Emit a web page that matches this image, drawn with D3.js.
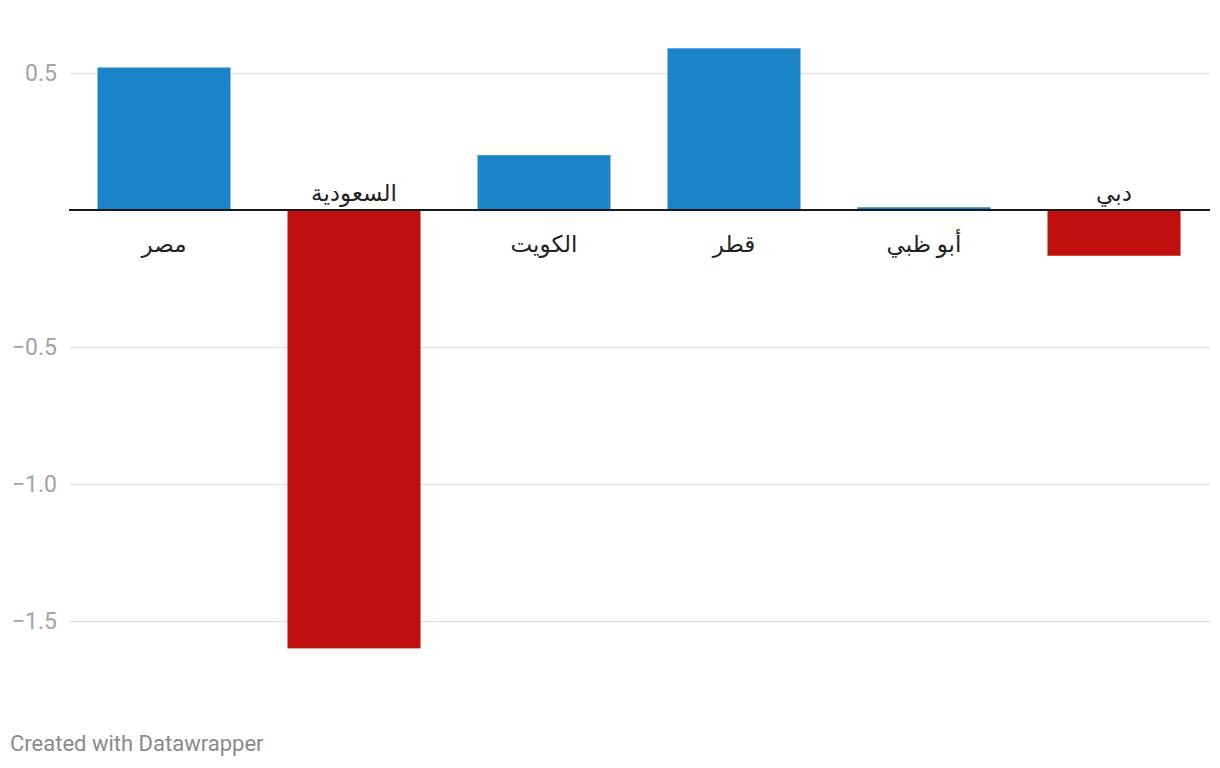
<!DOCTYPE html>
<html><head><meta charset="utf-8">
<script src="https://cdn.jsdelivr.net/npm/d3@7"></script>
<style>
body{margin:0;background:#fff;}
svg text{font-family:Roboto,"Noto Sans","DejaVu Sans",sans-serif;}
</style></head>
<body>
<svg id="c" width="1220" height="768"></svg>
<script>
const categories = ["مصر","السعودية","الكويت","قطر","أبو ظبي","دبي"];
const values = [0.52, -1.6, 0.2, 0.59, 0.01, -0.167];
const tickValues = [0.5, 0, -0.5, -1.0, -1.5];
const tickLabels = ["0.5", "", "−0.5", "−1.0", "−1.5"];

const svg = d3.select("#c");
const x = d3.scaleBand().domain(categories).range([69, 1209]).paddingInner(0.3).paddingOuter(0.15);
const y = d3.scaleLinear().domain([-1.5, 0.5]).range([621, 73]);

// gridlines
svg.append("g").selectAll("line").data(tickValues.filter(d=>d!==0)).join("line")
  .attr("x1", 70).attr("x2", 1210)
  .attr("y1", d=>Math.round(y(d))+0.5).attr("y2", d=>Math.round(y(d))+0.5)
  .attr("stroke", "#e3e3e3").attr("stroke-width", 1.5);

// tick labels
svg.append("g").selectAll("text").data(tickValues).join("text")
  .attr("x", 57).attr("y", d=>y(d)).attr("dy", "0.35em")
  .attr("text-anchor", "end").attr("font-size", 23).attr("fill", "#a3a3a3")
  .text((d,i)=>tickLabels[i]);

// bars
svg.append("g").selectAll("rect").data(values).join("rect")
  .attr("x", (d,i)=>x(categories[i]))
  .attr("width", x.bandwidth())
  .attr("y", d=>y(Math.max(0,d)))
  .attr("height", d=>Math.abs(y(d)-y(0)))
  .attr("fill", d=> d>=0 ? "#1b83c8" : "#c00f0f");

// baseline
svg.append("line").attr("x1", 69).attr("x2", 1210)
  .attr("y1", y(0)).attr("y2", y(0)).attr("stroke", "#1a1a1a").attr("stroke-width", 2);

// category labels
svg.append("g").selectAll("text").data(values).join("text")
  .attr("x", (d,i)=>x(categories[i]) + x.bandwidth()/2)
  .attr("y", d=> d>=0 ? y(0)+42 : y(0)-9)
  .attr("text-anchor", "middle").attr("font-size", 23).attr("fill", "#222")
  .attr("direction", "rtl")
  .text((d,i)=>categories[i]);

// footer
svg.append("text").attr("x", 10).attr("y", 751)
  .attr("font-size", 22).attr("fill", "#8a8a8a")
  .text("Created with Datawrapper");
</script>
</body></html>
